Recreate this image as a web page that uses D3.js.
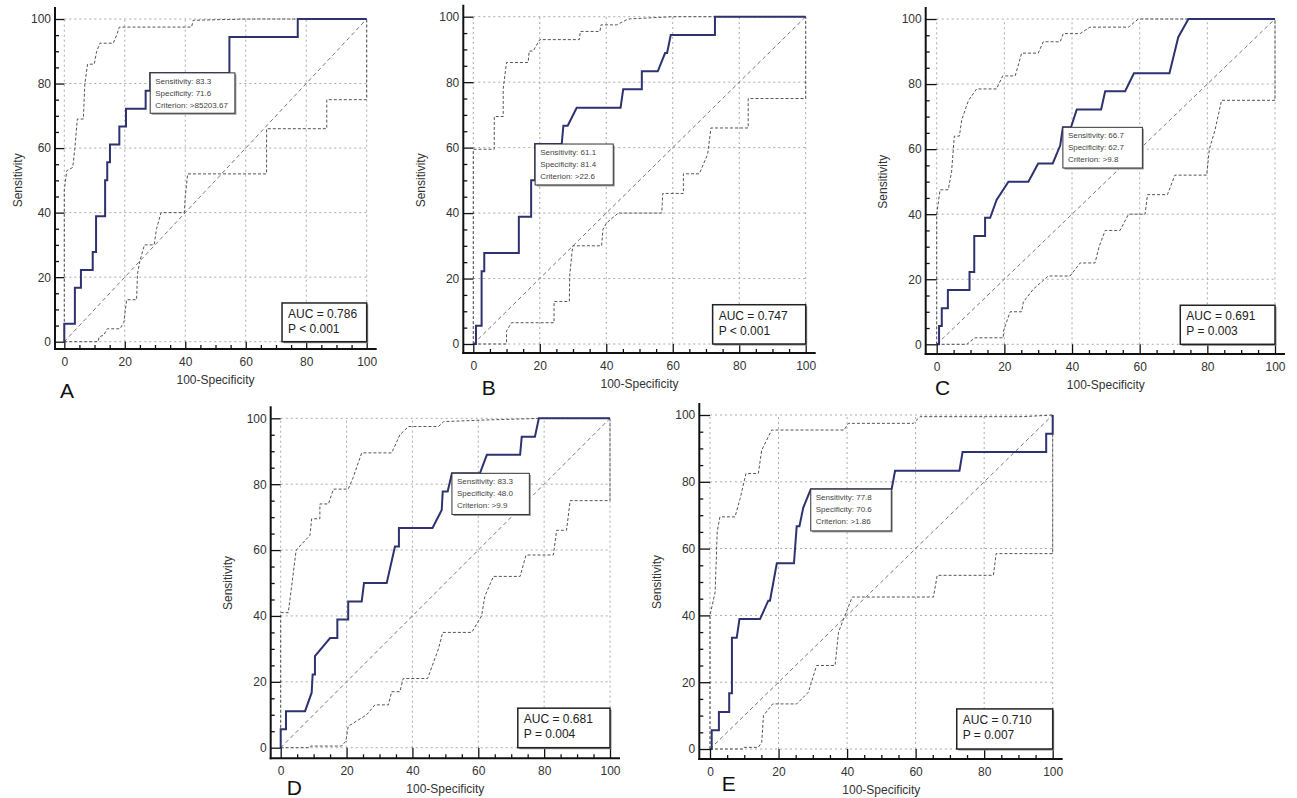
<!DOCTYPE html>
<html>
<head>
<meta charset="utf-8">
<script src="https://cdn.jsdelivr.net/npm/d3@7"></script>
<style>
  body { margin: 0; background: #fff; }
  svg { display: block; }
  text { font-family: "Liberation Sans", Arial, sans-serif; }
</style>
</head>
<body>
<svg id="roc" width="1297" height="798"></svg>
<script>
// ROC curves (x = 100-Specificity, y = Sensitivity)
const rocA = [[0,0],[0,5.6],[3.5,5.6],[3.5,16.7],[5.5,16.7],[5.5,22.2],[9.4,22.2],[9.4,27.8],[10.5,27.8],[10.5,38.9],[13.5,38.9],[13.5,50],[14.2,50],[14.2,55.6],[15.1,55.6],[15.1,61.1],[18.2,61.1],[18.2,66.7],[20.4,66.7],[20.4,72.2],[26.9,72.2],[26.9,77.8],[28.4,77.8],[28.4,83.3],[54.6,83.3],[54.6,94.4],[77.2,94.4],[77.2,100],[100,100]];
const upA = [[0,0],[0,47],[0.8,53],[2.8,54],[3.5,60],[4.3,69],[6.3,69],[6.8,80],[7.7,86],[9.9,86],[10.7,90],[11.8,92.5],[16.2,92.5],[17.3,95],[18.2,97.5],[42.1,97.5],[42.6,99.6],[60,100],[100,100]];
const loA = [[0,0],[11.2,0],[11.5,1.5],[13,2],[14.2,4],[18.4,4],[19.7,6],[20.6,13],[23.9,13],[24.2,21],[25,25],[26.5,30],[29.7,30],[30.5,35],[32,40],[39.7,40],[40,45],[40.8,52],[66.9,52],[66.9,66],[86.8,66],[86.8,75],[100,75],[100,100]];

const rocB = [[0,0],[0.8,0],[0.8,5.6],[2.5,5.6],[2.5,22.2],[3.3,22.2],[3.3,27.8],[13.7,27.8],[13.7,38.9],[17.4,38.9],[17.4,50],[18.6,50],[18.6,61.1],[26.6,61.1],[27.1,66.7],[28.4,66.7],[31.1,72.2],[44.3,72.2],[45.1,77.8],[50.7,77.8],[50.7,83.3],[55.5,83.3],[57.7,88.9],[58.3,88.9],[59.4,94.4],[72.7,94.4],[72.7,100],[100,100]];
const upB = [[0,0],[0,59.5],[6.3,59.5],[6.3,69.5],[9,69.5],[9,78],[10,86],[16.5,86],[16.8,89.5],[18,89.5],[20,93],[31.9,93],[32.2,95.5],[38.1,95.5],[38.4,97.5],[43.1,97.5],[46.6,99.3],[60,100],[100,100]];
const loB = [[0,0],[10,0],[10,4],[11.5,6.5],[24.3,6.5],[24.3,13],[28.9,13],[29,21],[29.9,30],[38.6,30],[39,35],[40.1,37],[43.6,40],[56.7,40],[57,46],[63.2,46],[63.2,52],[68,52],[70.5,58],[71.5,66],[82.7,66],[82.7,75],[100,75],[100,100]];

const rocC = [[0,0],[0.7,0],[0.7,5.6],[1.5,5.6],[1.5,11.1],[3.3,11.1],[3.3,16.7],[9.7,16.7],[9.7,22.2],[11.1,22.2],[11.1,33.3],[14.3,33.3],[14.3,38.9],[15.8,38.9],[17.7,44.4],[21.2,50],[27.1,50],[30,55.6],[34.3,55.6],[36.5,61.1],[37.3,66.7],[39.7,66.7],[41.4,72.2],[48.6,72.2],[49.8,77.8],[55.7,77.8],[58.3,83.3],[68.8,83.3],[71.4,94.4],[74.4,100],[100,100]];
const upC = [[0,0],[0,40],[1,47.5],[3.4,47.5],[4.4,53],[5.2,64],[6.7,64],[7.4,69],[9.4,75],[11.8,78.5],[17.7,78.5],[19.5,82.5],[23.2,82.5],[25.1,89.5],[30,89.5],[31.5,93],[36.5,93],[37.4,95.5],[42.4,95.5],[45.3,97.5],[56.7,97.5],[59.6,100],[100,100]];
const loC = [[0,0],[8.9,0],[11.3,2],[19.7,2],[19.7,4],[21.7,10],[25.1,10],[25.6,13],[28.6,17],[33,21],[39.4,21],[42.4,25],[46.8,25],[48,30],[49.8,35],[54.2,35],[56.7,40],[61.6,40],[62.3,46],[68.2,46],[70.4,52],[79.8,52],[80.6,60],[82.3,66],[84.2,75],[100,75],[100,100]];

const rocD = [[0,0],[0,5.6],[1.6,5.6],[1.6,11.1],[7.4,11.1],[9.4,16.7],[9.7,22.2],[10.4,22.2],[10.4,27.8],[15,33.3],[17.2,33.3],[17.2,38.9],[20.5,38.9],[20.5,44.4],[24.6,44.4],[25.3,50],[32.2,50],[34.7,61.1],[35.9,61.1],[35.9,66.7],[46.1,66.7],[48.9,72.2],[49.2,77.8],[50.7,77.8],[52,83.3],[60.5,83.3],[62.6,88.9],[72.7,88.9],[73.2,94.4],[77.2,94.4],[78.4,100],[100,100]];
const upD = [[0,0],[0,41],[2.3,41],[4.7,60],[8.9,64.5],[9.4,69.5],[11.9,69.5],[11.9,74],[14.5,74],[16,78.5],[20.5,78.5],[22,82],[24.6,89.5],[33.7,89.5],[36.2,95],[38.8,97.5],[47.9,97.5],[49.5,99],[62.6,99.5],[80,100],[100,100]];
const loD = [[0,0],[8.9,0],[9.2,0.5],[18.5,0.5],[19.8,2],[20.5,6.5],[26.1,10],[28.6,13],[32.7,13],[33.7,17],[36.2,17],[37.2,21],[44.6,21],[47.9,30],[49.2,35],[58,35],[61,40],[62,46],[64.6,52],[72.7,52],[74.5,58.5],[82.8,58.5],[83.8,66],[86.8,66],[87.9,75],[100,75],[100,100]];

const rocE = [[0,0],[0.5,0],[0.5,5.6],[2.6,5.6],[2.6,11.1],[5.6,11.1],[5.6,16.7],[6.4,16.7],[6.4,33.3],[7.8,33.3],[8.6,38.9],[14.6,38.9],[17,44.4],[17.5,44.4],[18.5,50],[19.5,55.6],[24.5,55.6],[25.3,66.7],[26.1,66.7],[27.2,72.2],[29.4,77.8],[53,77.8],[54,83.3],[72.8,83.3],[73.7,88.9],[98.1,88.9],[98.1,94.4],[100,94.4],[100,100]];
const upE = [[0,0],[0,40],[1.5,47],[2.1,65],[2.9,69.5],[7.3,69.5],[8.8,75],[10.5,82.5],[14.1,82.5],[15.1,89.5],[18,95.5],[39.1,95.5],[40.4,97.5],[59.3,97.5],[61.3,99.5],[91.4,99.5],[100,100]];
const loE = [[0,0],[9.7,0],[9.9,0.5],[14.1,0.5],[15.1,2],[15.6,10],[18.3,13.5],[25.3,13.5],[28.7,17],[31.1,25],[36.5,25],[37.5,35],[39.4,40],[41.5,45.5],[65.2,45.5],[66.3,52],[82.7,52],[83.5,58.5],[100,58.5],[100,100]];

const panelLetters = ["A", "B", "C", "D", "E"];
const sensCut = [83.3, 61.1, 66.7, 83.3, 77.8];
const specCut = [71.6, 81.4, 62.7, 48.0, 70.6];
const criterion = [">85203.67", ">22.6", ">9.8", ">9.9", ">1.86"];
const aucVals = ["0.786", "0.747", "0.691", "0.681", "0.710"];
const pVals = ["P < 0.001", "P < 0.001", "P = 0.003", "P = 0.004", "P = 0.007"];
const ticks = [0, 20, 40, 60, 80, 100];
const minorTicks = d3.range(0, 101, 5).filter(v => v % 20 !== 0);

const curves = [rocA, rocB, rocC, rocD, rocE];
const upper = [upA, upB, upC, upD, upE];
const lower = [loA, loB, loC, loD, loE];

// where each small panel sits on the page
const frames = [
  { x0: 64.3, x1: 366.7, yTop: 19, yBot: 341.7, ax: 55, ay: 349, titleOff: 36.7, letter: [60, 398] },
  { x0: 473.3, x1: 805.7, yTop: 16.7, yBot: 344, ax: 463.3, ay: 353, titleOff: 42, letter: [481.7, 395] },
  { x0: 936.7, x1: 1275, yTop: 19, yBot: 344.3, ax: 925.7, ay: 354, titleOff: 42.4, letter: [935, 395] },
  { x0: 280.7, x1: 610, yTop: 418.3, yBot: 747.7, ax: 270.7, ay: 758.3, titleOff: 42.4, letter: [286.7, 795] },
  { x0: 710, x1: 1052.7, yTop: 415, yBot: 749, ax: 699.3, ay: 759, titleOff: 42.6, letter: [721.7, 791] }
];

const svg = d3.select("#roc");

frames.forEach((f, i) => {
  const g = svg.append("g");
  const x = d3.scaleLinear().domain([0, 100]).range([f.x0, f.x1]);
  const y = d3.scaleLinear().domain([0, 100]).range([f.yBot, f.yTop]);
  const w = f.x1 - f.x0, h = f.yBot - f.yTop;

  // dotted grid
  ticks.forEach(t => {
    g.append("line").attr("x1", x(t)).attr("x2", x(t)).attr("y1", y(0)).attr("y2", y(100))
      .attr("stroke", "#aaa").attr("stroke-dasharray", "2,3");
    g.append("line").attr("x1", x(0)).attr("x2", x(100)).attr("y1", y(t)).attr("y2", y(t))
      .attr("stroke", "#aaa").attr("stroke-dasharray", "2,3");
  });

  const line = d3.line().x(d => x(d[0])).y(d => y(d[1]));

  // reference diagonal
  g.append("path").attr("d", line([[0, 0], [100, 100]]))
    .attr("fill", "none").attr("stroke", "#777").attr("stroke-dasharray", "4,3");

  // confidence bounds
  [lower[i], upper[i]].forEach(ci => {
    g.append("path").attr("d", line(ci))
      .attr("fill", "none").attr("stroke", "#555").attr("stroke-width", 1)
      .attr("stroke-dasharray", "3,2");
  });

  // ROC curve
  g.append("path").attr("d", line(curves[i]))
    .attr("fill", "none").attr("stroke", "#2d3270").attr("stroke-width", 2);

  // axes
  const yAxis = g.append("g").attr("transform", `translate(${f.ax},0)`)
    .call(d3.axisLeft(y).tickValues(ticks).tickSizeInner(-(f.x0 - f.ax)).tickSizeOuter(0).tickPadding(4));
  g.append("g").attr("transform", `translate(${f.ax},0)`)
    .call(d3.axisLeft(y).tickValues(minorTicks).tickSizeInner(-4).tickSizeOuter(0).tickFormat(""));
  const xAxis = g.append("g").attr("transform", `translate(0,${f.ay})`)
    .call(d3.axisBottom(x).tickValues(ticks).tickSizeInner(-(f.ay - f.yBot)).tickSizeOuter(0).tickPadding(8));
  g.append("g").attr("transform", `translate(0,${f.ay})`)
    .call(d3.axisBottom(x).tickValues(minorTicks).tickSizeInner(-4).tickSizeOuter(0).tickFormat(""));

  g.selectAll(".domain").remove();
  g.selectAll(".tick line").attr("stroke", "#111").attr("stroke-width", 1.3);
  g.selectAll(".tick text").attr("font-size", 12).attr("fill", "#333")
    .attr("font-family", "'Liberation Sans', Arial, sans-serif");

  g.append("line").attr("x1", f.ax).attr("x2", f.ax).attr("y1", f.yTop - 12).attr("y2", f.ay + 1)
    .attr("stroke", "#111").attr("stroke-width", 2);
  g.append("line").attr("x1", f.ax - 1).attr("x2", f.x1 + 10).attr("y1", f.ay).attr("y2", f.ay)
    .attr("stroke", "#111").attr("stroke-width", 2);

  // axis titles
  g.append("text").attr("x", (f.x0 + f.x1) / 2).attr("y", f.ay + 35)
    .attr("text-anchor", "middle").attr("font-size", 12).attr("fill", "#333")
    .text("100-Specificity");
  g.append("text")
    .attr("transform", `translate(${f.ax - f.titleOff},${(f.yTop + f.yBot) / 2}) rotate(-90)`)
    .attr("text-anchor", "middle").attr("dominant-baseline", "central")
    .attr("font-size", 12).attr("fill", "#333").text("Sensitivity");

  // panel letter
  g.append("text").attr("x", f.letter[0]).attr("y", f.letter[1])
    .attr("font-family", "'Noto Sans', sans-serif").attr("font-size", 21).attr("fill", "#111")
    .text(panelLetters[i]);

  // cut-off annotation, anchored at the optimal point
  const bx = x(100 - specCut[i]), by = y(sensCut[i]);
  const note = g.append("g");
  const shadow = note.append("rect");
  const box = note.append("rect");
  const lines = [
    `Sensitivity: ${sensCut[i].toFixed(1)}`,
    `Specificity: ${specCut[i].toFixed(1)}`,
    `Criterion: ${criterion[i]}`
  ];
  let tw = 0;
  lines.forEach((s, k) => {
    const t = note.append("text").attr("x", bx + 5).attr("y", by + 11 + k * 12)
      .attr("font-size", 8).attr("fill", "#444").text(s);
    tw = Math.max(tw, t.node().getComputedTextLength());
  });
  const bw = Math.max(tw + 12, 0.235 * w), bh = 0.125 * h;
  shadow.attr("x", bx + 1.5).attr("y", by + 1.5).attr("width", bw).attr("height", bh).attr("fill", "#999");
  box.attr("x", bx).attr("y", by).attr("width", bw).attr("height", bh)
    .attr("fill", "#fff").attr("stroke", "#333").attr("stroke-width", 1);

  // AUC box in the lower right corner
  const aw = 0.28 * w, ah = 0.12 * h;
  const axX = x(100) - aw, axY = y(0) - ah;
  g.append("rect").attr("x", axX + 1.5).attr("y", axY + 1.5).attr("width", aw).attr("height", ah).attr("fill", "#888");
  g.append("rect").attr("x", axX).attr("y", axY).attr("width", aw).attr("height", ah)
    .attr("fill", "#fff").attr("stroke", "#222").attr("stroke-width", 1.5);
  g.append("text").attr("x", axX + 6).attr("y", axY + 15).attr("font-size", 12).attr("fill", "#222")
    .text(`AUC = ${aucVals[i]}`);
  g.append("text").attr("x", axX + 6).attr("y", axY + 30).attr("font-size", 12).attr("fill", "#222")
    .text(pVals[i]);
});
</script>
</body>
</html>
